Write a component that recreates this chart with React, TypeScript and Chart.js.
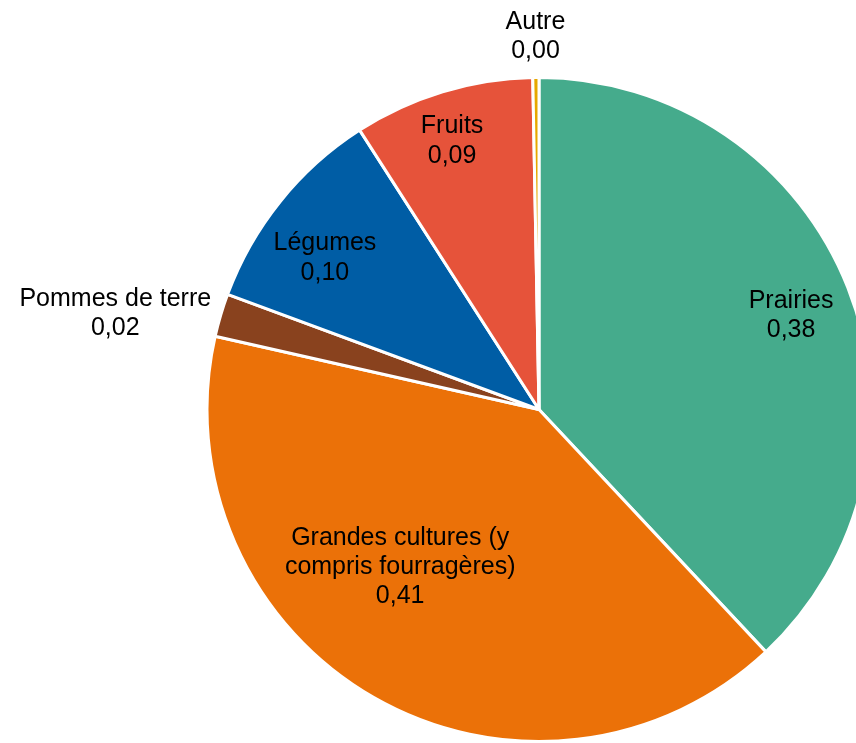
import React, { useEffect, useRef } from "react";
import { Chart, registerables } from "chart.js";

Chart.register(...registerables);

const categories = [
  "Prairies",
  "Grandes cultures (y compris fourragères)",
  "Pommes de terre",
  "Légumes",
  "Fruits",
  "Autre",
];
const values = [0.381, 0.406, 0.021, 0.103, 0.088, 0.003];
const colors = ["#45AB8C", "#EB7108", "#89421E", "#005DA5", "#E6533A", "#E6A800"];

// label placement: radial factor (relative to outer radius) and angle shift (degrees)
const labelRadius = [0.813, 0.627, 1.31, 0.794, 0.857, 1.13];
const labelShift = [0.6, 12, -3.5, -3.1, -0.9, 0];

const fmt = (v: number) => v.toFixed(2).replace(".", ",");

function wrap(ctx: CanvasRenderingContext2D, text: string, maxW: number): string[] {
  const words = text.split(" ");
  const lines: string[] = [];
  let cur = "";
  for (const w of words) {
    const t = cur ? cur + " " + w : w;
    if (ctx.measureText(t).width > maxW && cur) {
      lines.push(cur);
      cur = w;
    } else cur = t;
  }
  if (cur) lines.push(cur);
  return lines;
}

const labelPlugin = {
  id: "sliceLabels",
  afterDatasetsDraw(chart: any) {
    const ctx: CanvasRenderingContext2D = chart.ctx;
    const meta = chart.getDatasetMeta(0);
    ctx.save();
    ctx.font = "25px 'Liberation Sans', Arial, sans-serif";
    ctx.fillStyle = "#000000";
    ctx.textAlign = "center";
    ctx.textBaseline = "middle";
    const lh = 29.2;
    meta.data.forEach((arc: any, i: number) => {
      const { x, y, startAngle, endAngle, outerRadius } = arc.getProps(
        ["x", "y", "startAngle", "endAngle", "outerRadius"],
        true
      );
      const mid = (startAngle + endAngle) / 2 + (labelShift[i] * Math.PI) / 180;
      const r = outerRadius * labelRadius[i];
      const px = x + Math.cos(mid) * r;
      const py = y + Math.sin(mid) * r + 2.5;
      const lines = [...wrap(ctx, categories[i], 250), fmt(values[i])];
      const top = py - ((lines.length - 1) * lh) / 2;
      lines.forEach((l, k) => ctx.fillText(l, px, top + k * lh));
    });
    ctx.restore();
  },
};

export default function App() {
  const ref = useRef<HTMLCanvasElement>(null);
  useEffect(() => {
    if (!ref.current) return;
    const chart = new Chart(ref.current, {
      type: "pie",
      data: {
        labels: categories,
        datasets: [
          {
            data: values,
            backgroundColor: colors,
            borderColor: "#ffffff",
            borderWidth: 3,
          },
        ],
      },
      options: {
        animation: false,
        responsive: true,
        maintainAspectRatio: false,
        layout: { padding: { top: 76, bottom: 0, left: 205, right: 27 } },
        plugins: {
          legend: { display: false },
          tooltip: { enabled: false },
        },
      },
      plugins: [labelPlugin],
    });
    return () => chart.destroy();
  }, []);
  return (
    <div
      style={{
        position: "fixed",
        left: 0,
        top: 0,
        width: 856,
        height: 743,
        overflow: "hidden",
        background: "#ffffff",
      }}
    >
      <div style={{ position: "relative", width: 900, height: 743 }}>
        <canvas ref={ref} />
      </div>
    </div>
  );
}
